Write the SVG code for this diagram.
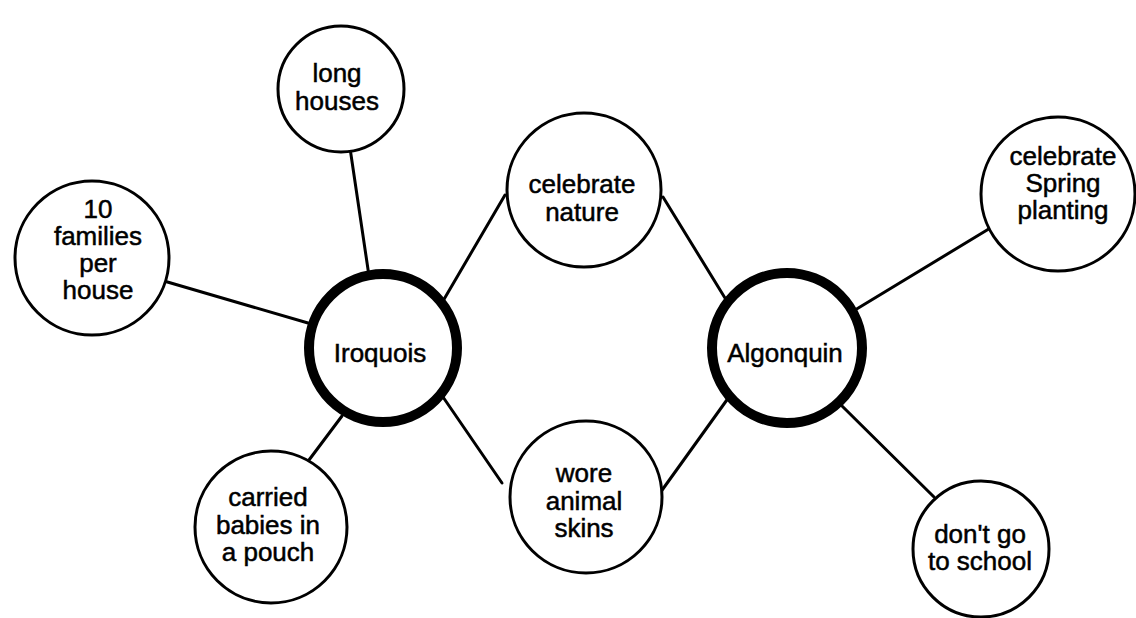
<svg xmlns="http://www.w3.org/2000/svg" width="1136" height="618" viewBox="0 0 1136 618">
  <style>
    .bg { fill: #ffffff; }
    .edge { stroke: #000000; stroke-width: 3; stroke-linecap: round; fill: none; }
    .leaf { fill: #ffffff; stroke: #000000; stroke-width: 3; }
    .hub { fill: #ffffff; stroke: #000000; stroke-width: 10; }
    .label { font-family: "Liberation Sans", Arial, Helvetica, sans-serif; font-size: 26px; fill: #000000; stroke: #000000; stroke-width: 0.5; text-anchor: middle; }
  </style>
  <rect class="bg" x="0" y="0" width="1136" height="618"/>

  <!-- connectors (drawn beneath the circles) -->
  <g id="connectors">
    <line class="edge" x1="350" y1="148" x2="369" y2="276"/>
    <line class="edge" x1="164" y1="281" x2="308" y2="323"/>
    <line class="edge" x1="306" y1="464" x2="342" y2="416"/>
    <line class="edge" x1="443" y1="301" x2="505" y2="195"/>
    <line class="edge" x1="443" y1="397" x2="502" y2="483"/>
    <line class="edge" x1="663" y1="197" x2="725" y2="298"/>
    <line class="edge" x1="660" y1="493" x2="729" y2="397"/>
    <line class="edge" x1="855" y1="310" x2="992" y2="227"/>
    <line class="edge" x1="840" y1="404" x2="934" y2="497"/>
  </g>

  <!-- Iroquois hub and its leaves -->
  <g id="node-iroquois">
    <circle class="hub" cx="383" cy="348" r="74"/>
    <text class="label" x="380" y="362">Iroquois</text>
  </g>
  <g id="node-long-houses">
    <circle class="leaf" cx="341" cy="89" r="63"/>
    <text class="label" x="337" y="82">long</text>
    <text class="label" x="337" y="110">houses</text>
  </g>
  <g id="node-families">
    <circle class="leaf" cx="92" cy="258" r="77"/>
    <text class="label" x="98" y="218">10</text>
    <text class="label" x="98" y="245">families</text>
    <text class="label" x="98" y="272">per</text>
    <text class="label" x="98" y="299">house</text>
  </g>
  <g id="node-babies">
    <circle class="leaf" cx="271" cy="527" r="76"/>
    <text class="label" x="268" y="506">carried</text>
    <text class="label" x="268" y="534">babies in</text>
    <text class="label" x="268" y="561">a pouch</text>
  </g>

  <!-- shared traits -->
  <g id="node-celebrate-nature">
    <circle class="leaf" cx="584" cy="190" r="77"/>
    <text class="label" x="582" y="193">celebrate</text>
    <text class="label" x="582" y="221">nature</text>
  </g>
  <g id="node-animal-skins">
    <circle class="leaf" cx="586" cy="497" r="76"/>
    <text class="label" x="584" y="482">wore</text>
    <text class="label" x="584" y="510">animal</text>
    <text class="label" x="584" y="537">skins</text>
  </g>

  <!-- Algonquin hub and its leaves -->
  <g id="node-algonquin">
    <circle class="hub" cx="787" cy="348" r="75"/>
    <text class="label" x="785" y="362">Algonquin</text>
  </g>
  <g id="node-spring">
    <circle class="leaf" cx="1058" cy="194" r="77"/>
    <text class="label" x="1063" y="165">celebrate</text>
    <text class="label" x="1063" y="192">Spring</text>
    <text class="label" x="1063" y="219">planting</text>
  </g>
  <g id="node-school">
    <circle class="leaf" cx="981" cy="549" r="68"/>
    <text class="label" x="980" y="543">don't go</text>
    <text class="label" x="980" y="570">to school</text>
  </g>
</svg>
